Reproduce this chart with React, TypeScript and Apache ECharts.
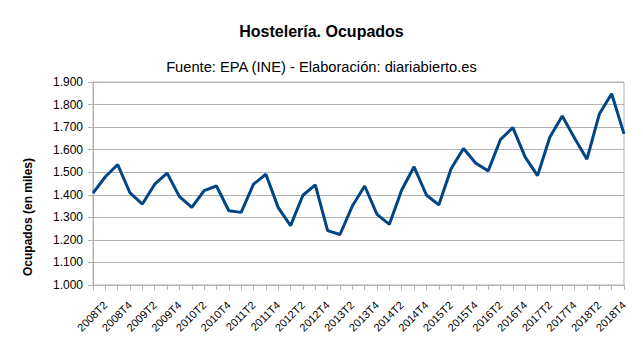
import React, { useEffect, useRef } from "react";
import * as echarts from "echarts";

const years = [2008, 2009, 2010, 2011, 2012, 2013, 2014, 2015, 2016, 2017, 2018];
const categories: string[] = [];
years.forEach((y) => [1, 2, 3, 4].forEach((q) => categories.push(`${y}T${q}`)));

const ocupados = [
  1407, 1480, 1534, 1408, 1359, 1447, 1496, 1392, 1344, 1418, 1439,
  1329, 1322, 1447, 1491, 1343, 1263, 1398, 1444, 1241, 1224, 1350,
  1439, 1313, 1269, 1421, 1524, 1399, 1355, 1515, 1605, 1540, 1506,
  1645, 1698, 1567, 1485, 1656, 1749, 1651, 1558, 1758, 1848, 1670,
];

const yTicks = { min: 1000, max: 1900, interval: 100 };

const FONT = "'Liberation Sans', Arial, sans-serif";

export default function App() {
  const ref = useRef<HTMLDivElement>(null);
  useEffect(() => {
    if (!ref.current) return;
    document.body.style.margin = "0";
    const chart = echarts.init(ref.current, undefined, { renderer: "svg" });
    chart.setOption({
      animation: false,
      backgroundColor: "#ffffff",
      textStyle: { fontFamily: FONT },
      title: [
        {
          text: "Hostelería. Ocupados",
          left: "center",
          top: 18,
          textStyle: { fontFamily: FONT, fontSize: 16, fontWeight: "bold", color: "#000" },
        },
        {
          text: "Fuente: EPA (INE) - Elaboración: diariabierto.es",
          left: "center",
          top: 54,
          textStyle: { fontFamily: FONT, fontSize: 14.7, fontWeight: "normal", color: "#000" },
        },
      ],
      graphic: [
        {
          type: "text",
          x: 28,
          y: 217,
          rotation: Math.PI / 2,
          style: {
            text: "Ocupados (en miles)",
            fontFamily: FONT,
            fontSize: 12,
            fontWeight: "bold",
            fill: "#000",
            align: "center",
            verticalAlign: "middle",
          },
        },
      ],
      grid: {
        left: 93,
        right: 19,
        top: 82,
        bottom: 76,
        show: true,
        borderColor: "#b3b3b3",
        borderWidth: 1,
      },
      xAxis: {
        type: "category",
        data: categories,
        boundaryGap: false,
        axisLine: { lineStyle: { color: "#b3b3b3", width: 1 } },
        axisTick: { show: true, interval: 0, length: 5, lineStyle: { color: "#b3b3b3" } },
        axisLabel: {
          interval: (i: number) => i % 2 === 1,
          rotate: 45,
          fontSize: 11,
          color: "#000",
          fontFamily: FONT,
          margin: 18,
        },
        splitLine: { show: false },
      },
      yAxis: {
        type: "value",
        min: yTicks.min,
        max: yTicks.max,
        interval: yTicks.interval,
        axisLine: { show: true, lineStyle: { color: "#b3b3b3", width: 1 } },
        axisTick: { show: true, length: 5, lineStyle: { color: "#b3b3b3" } },
        axisLabel: {
          fontSize: 12,
          color: "#000",
          fontFamily: FONT,
          margin: 10,
          formatter: (v: number) => {
            const s = String(Math.round(v));
            return s.length > 3 ? s.slice(0, s.length - 3) + "." + s.slice(-3) : s;
          },
        },
        splitLine: { show: true, lineStyle: { color: "#b3b3b3", width: 1 } },
      },
      series: [
        {
          type: "line",
          data: ocupados,
          symbol: "none",
          lineStyle: { color: "#004586", width: 3 },
          itemStyle: { color: "#004586" },
        },
      ],
    });
    return () => chart.dispose();
  }, []);
  return <div ref={ref} style={{ width: 643, height: 361 }} />;
}
